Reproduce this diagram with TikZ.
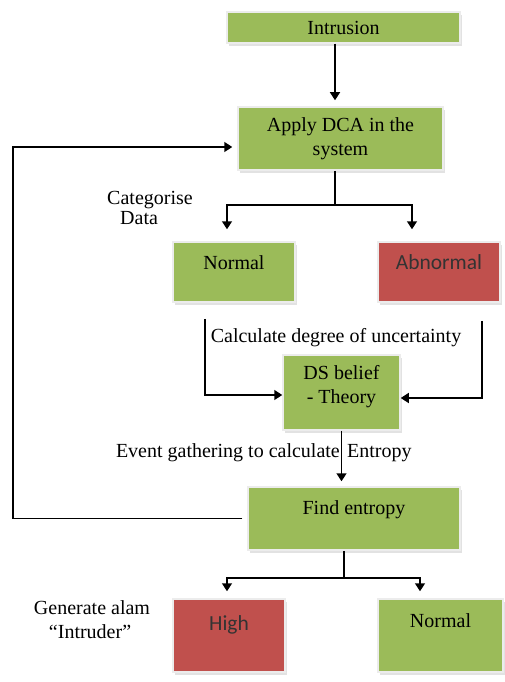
\documentclass[tikz,border=0pt]{standalone}
\usepackage{fontspec}
\setmainfont{Liberation Serif}
\newfontfamily\calib{Carlito}
\usetikzlibrary{arrows.meta,shadows}
\definecolor{boxgreen}{HTML}{9BBB59}
\definecolor{boxred}{HTML}{C0504D}
\tikzset{
  box/.style={rectangle, fill=boxgreen, draw=gray!15, line width=1.5pt,
    drop shadow={shadow xshift=2pt, shadow yshift=-3pt, fill=gray!45},
    inner sep=0pt, align=center, font=\fontsize{20}{24}\selectfont},
  redbox/.style={box, fill=boxred, font=\calib\fontsize{21.5}{25}\selectfont, text=black!80},
  lift/.style={text height=14pt, text depth=#1},
  arr/.style={-{Triangle[width=10pt,length=8pt]}, line width=1.5pt},
  lbl/.style={font=\fontsize{20}{24}\selectfont, inner sep=0pt}
}
\begin{document}
\begin{tikzpicture}[x=1pt,y=-1pt]
    \useasboundingbox (0,0) rectangle (505,682);

    \node[box, minimum width=233pt, minimum height=31pt] (intr) at (343.5, 27.5) {Intrusion};
    \node[box, minimum width=205pt, minimum height=63pt] (apply) at (340.5, 138.5) {Apply DCA in the\\system};
    \node[box, lift=20pt, minimum width=122pt, minimum height=60pt] (norm1) at (234, 272) {Normal};
    \node[redbox, lift=20pt, minimum width=122pt, minimum height=60pt] (abn) at (439, 272) {Abnormal};
    \node[box, text height=26pt, text depth=5pt, minimum width=117pt, minimum height=75pt] (ds) at (341.5, 392.5) {DS belief\\- Theory};
    \node[box, lift=23pt, minimum width=212pt, minimum height=63pt] (find) at (354, 518.5) {Find entropy};
    \node[redbox, lift=25pt, minimum width=112pt, minimum height=73pt] (high) at (229, 635.5) {High};
    \node[box, lift=31pt, minimum width=125pt, minimum height=73pt] (norm2) at (440.5, 635.5) {Normal};

    \node[lbl, align=left] (cat) at (150, 208) {Categorise\\[-4pt]\hspace{13pt}Data};
    \node[lbl] (unc) at (336, 338) {Calculate degree of uncertainty};
    \node[lbl, anchor=east] (evt) at (340, 453) {Event gathering to calculate};
    \node[lbl, anchor=west] (ent) at (347, 453) {Entropy};
    \node[lbl, align=left] (alarm) at (92, 620) {Generate alam\\\hspace{15pt}``Intruder''};

    \coordinate (fork1) at (335, 205);
    \coordinate (fork2) at (344, 578);
    \coordinate (loop) at (13, 147);

    \draw[arr, shorten >=6pt] ([xshift=-8.5pt]intr.south) -- ([xshift=-8.5pt]intr.south |- apply.north);

    \draw[line width=1.5pt] (fork1 |- apply.south) -- (fork1);
    \draw[arr] (fork1) -| ([xshift=-7pt,yshift=12pt]norm1.north);
    \draw[arr] (fork1) -| ([xshift=-27pt,yshift=12pt]abn.north);

    \draw[arr] ([xshift=-29pt,yshift=-16pt]norm1.south) |- ([yshift=-2.5pt]ds.west);
    \draw[arr] ([xshift=43pt,yshift=-18pt]abn.south) |- ([yshift=-5.5pt]ds.east);

    \draw[arr, shorten >=5pt] (ds.south) -- (ds.south |- find.north);

    \draw[arr, shorten >=5pt] ([xshift=-5pt]find.west) -| (loop) |- ([yshift=-8.5pt]apply.west);

    \draw[line width=1.5pt] (fork2 |- find.south) -- (fork2);
    \draw[arr] (fork2) -| ([xshift=-2pt,yshift=7pt]high.north);
    \draw[arr] (fork2) -| ([xshift=-20.5pt,yshift=7pt]norm2.north);

  \end{tikzpicture}
\end{document}
